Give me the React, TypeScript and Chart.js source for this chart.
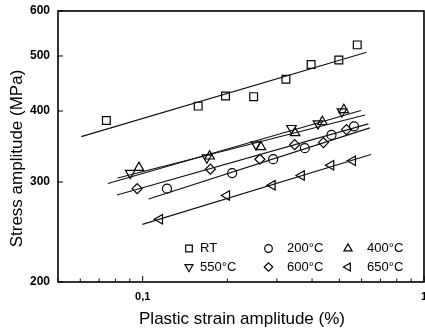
import React, { useEffect, useRef } from 'react';
import { Chart, registerables } from 'chart.js';
import { drawPoint } from 'chart.js/helpers';

Chart.register(...registerables);

// ---- data (strain amplitude %, stress amplitude MPa) ----
const seriesNames = ['RT', '200°C', '400°C', '550°C', '600°C', '650°C'];

const rtStrain = [0.0743, 0.1575, 0.197, 0.248, 0.323, 0.397, 0.498, 0.579];
const rtStress = [385, 408, 425, 424, 455, 483, 492, 523];
const t200Strain = [0.122, 0.208, 0.291, 0.377, 0.469, 0.564];
const t200Stress = [292, 311, 329, 344, 363, 376];
const t400Strain = [0.097, 0.173, 0.263, 0.348, 0.435, 0.519];
const t400Stress = [318, 333, 346, 366, 383, 402];
const t550Strain = [0.0903, 0.169, 0.253, 0.338, 0.42, 0.511];
const t550Stress = [311, 331, 349, 373, 380, 399];
const t600Strain = [0.0956, 0.174, 0.261, 0.347, 0.439, 0.53];
const t600Stress = [292, 316, 329, 349, 352, 371];
const t650Strain = [0.115, 0.199, 0.289, 0.367, 0.467, 0.558];
const t650Stress = [258, 284, 296, 308, 321, 327];

// fitted lines (end points)
const rtFitStrain = [0.0605, 0.625];
const rtFitStress = [360.5, 507.6];
const t200FitStrain = [0.105, 0.642];
const t200FitStress = [280, 373.5];
const t400FitStrain = [0.0815, 0.617];
const t400FitStress = [304.9, 393.6];
const t550FitStrain = [0.0752, 0.597];
const t550FitStress = [298.2, 400.9];
const t600FitStrain = [0.081, 0.634];
const t600FitStress = [284.6, 379.6];
const t650FitStrain = [0.0998, 0.648];
const t650FitStress = [252.7, 335.4];

const xTickValues = [0.05, 0.06, 0.07, 0.08, 0.09, 0.1, 0.2, 0.3, 0.4, 0.5, 0.6, 0.7, 0.8, 0.9, 1];
const xMajorValues = [0.1, 1];
const xMajorLabels = ['0,1', '1'];
const yTickValues = [200, 300, 400, 500, 600];
const yTickLabels = ['200', '300', '400', '500', '600'];

const markerStyles = [
  { pointStyle: 'rect', rotation: 0, radius: 5.5 },
  { pointStyle: 'circle', rotation: 0, radius: 4.5 },
  { pointStyle: 'triangle', rotation: 0, radius: 5.5 },
  { pointStyle: 'triangle', rotation: 180, radius: 5.5 },
  { pointStyle: 'rectRot', rotation: 0, radius: 5 },
  { pointStyle: 'triangle', rotation: -90, radius: 5.5 },
];

const pointSets = [
  [rtStrain, rtStress],
  [t200Strain, t200Stress],
  [t400Strain, t400Stress],
  [t550Strain, t550Stress],
  [t600Strain, t600Stress],
  [t650Strain, t650Stress],
];
const fitSets = [
  [rtFitStrain, rtFitStress],
  [t200FitStrain, t200FitStress],
  [t400FitStrain, t400FitStress],
  [t550FitStrain, t550FitStress],
  [t600FitStrain, t600FitStress],
  [t650FitStrain, t650FitStress],
];

const FONT = '"Liberation Sans", Arial, Helvetica, sans-serif';

const near = (a: number, b: number) => Math.abs(a - b) < 1e-9 * Math.max(1, Math.abs(b));

const decorPlugin = {
  id: 'decor',
  afterDraw(chart: any) {
    const { ctx, chartArea: a, scales } = chart;
    const xs = scales.x;
    const ys = scales.y;
    ctx.save();
    ctx.strokeStyle = '#000';
    // frame
    ctx.lineWidth = 1.6;
    ctx.strokeRect(a.left, a.top, a.right - a.left, a.bottom - a.top);
    // inward ticks
    ctx.lineWidth = 1;
    xTickValues.forEach((v) => {
      const px = xs.getPixelForValue(v);
      const major = xMajorValues.some((m) => near(m, v));
      const len = major ? 6 : 3.5;
      ctx.beginPath();
      ctx.moveTo(px, a.bottom);
      ctx.lineTo(px, a.bottom - len);
      ctx.stroke();
    });
    yTickValues.forEach((v) => {
      const py = ys.getPixelForValue(v);
      ctx.beginPath();
      ctx.moveTo(a.left, py);
      ctx.lineTo(a.left + 5, py);
      ctx.stroke();
    });

    // x tick labels
    ctx.fillStyle = '#000';
    ctx.font = `bold 11px ${FONT}`;
    ctx.textAlign = 'center';
    ctx.textBaseline = 'middle';
    xMajorValues.forEach((v, i) => {
      ctx.fillText(xMajorLabels[i], xs.getPixelForValue(v), a.bottom + 15);
    });

    // legend (2 rows x 3 columns) inside plot area
    const colMarkerX = [a.left + 131, a.left + 210.5, a.left + 290];
    const colTextX = [a.left + 142, a.left + 229, a.left + 309];
    const rowY = [a.bottom - 33.5, a.bottom - 15];
    ctx.font = `13px ${FONT}`;
    ctx.textBaseline = 'middle';
    ctx.textAlign = 'left';
    seriesNames.forEach((name, i) => {
      const r = Math.floor(i / 3);
      const c = i % 3;
      const m = markerStyles[i];
      ctx.save();
      ctx.strokeStyle = '#000';
      ctx.fillStyle = 'rgba(0,0,0,0)';
      ctx.lineWidth = 1.2;
      drawPoint(
        ctx,
        { pointStyle: m.pointStyle as any, rotation: m.rotation, radius: m.radius * 0.85, borderWidth: 1.2 },
        colMarkerX[c],
        rowY[r]
      );
      ctx.restore();
      ctx.fillStyle = '#000';
      ctx.fillText(name, colTextX[c], rowY[r]);
    });

    // axis titles
    ctx.fillStyle = '#000';
    ctx.font = `17px ${FONT}`;
    ctx.textAlign = 'center';
    ctx.textBaseline = 'alphabetic';
    ctx.fillText('Plastic strain amplitude (%)', (a.left + a.right) / 2 + 1, 324);
    ctx.save();
    ctx.translate(22, (a.top + a.bottom) / 2 + 12);
    ctx.rotate(-Math.PI / 2);
    ctx.fillText('Stress amplitude (MPa)', 0, 0);
    ctx.restore();
    ctx.restore();
  },
};

export default function App() {
  const ref = useRef<HTMLCanvasElement | null>(null);

  useEffect(() => {
    if (!ref.current) return;
    const datasets: any[] = [];
    fitSets.forEach(([xsv, ysv]) => {
      datasets.push({
        data: xsv.map((x, i) => ({ x, y: ysv[i] })),
        showLine: true,
        pointRadius: 0,
        borderColor: '#111',
        borderWidth: 1.2,
        fill: false,
      });
    });
    pointSets.forEach(([xsv, ysv], k) => {
      const m = markerStyles[k];
      datasets.push({
        data: xsv.map((x, i) => ({ x, y: ysv[i] })),
        showLine: false,
        pointStyle: m.pointStyle,
        rotation: m.rotation,
        pointRadius: m.radius,
        pointBorderColor: '#000',
        pointBackgroundColor: 'rgba(0,0,0,0)',
        pointBorderWidth: 1.2,
        borderColor: '#000',
        backgroundColor: 'rgba(0,0,0,0)',
      });
    });

    const chart = new Chart(ref.current, {
      type: 'scatter',
      data: { datasets },
      options: {
        responsive: false,
        animation: false,
        devicePixelRatio: 1,
        events: [],
        layout: { autoPadding: false, padding: { top: 11, right: 1, left: 0, bottom: 0 } },
        plugins: { legend: { display: false }, tooltip: { enabled: false } },
        scales: {
          x: {
            type: 'logarithmic',
            min: 0.05,
            max: 1,
            grid: { display: false, drawTicks: false },
            border: { display: false },
            afterBuildTicks: (s: any) => {
              s.ticks = xTickValues.map((v) => ({ value: v }));
            },
            afterFit: (s: any) => {
              s.height = 48;
              s.paddingLeft = 0;
              s.paddingRight = 0;
            },
            ticks: { display: false },
          },
          y: {
            type: 'logarithmic',
            min: 200,
            max: 600,
            grid: { display: false, drawTicks: false },
            border: { display: false },
            afterBuildTicks: (s: any) => {
              s.ticks = yTickValues.map((v) => ({ value: v }));
            },
            afterFit: (s: any) => {
              s.width = 58;
              s.paddingTop = 0;
              s.paddingBottom = 0;
            },
            ticks: {
              autoSkip: false,
              padding: 8,
              color: '#000',
              font: { family: FONT, size: 12, weight: 'bold' },
              callback: (v: any) => {
                const idx = yTickValues.findIndex((m) => near(m, Number(v)));
                return idx >= 0 ? yTickLabels[idx] : '';
              },
            },
          },
        },
      },
      plugins: [decorPlugin],
    });
    return () => chart.destroy();
  }, []);

  return (
    <div style={{ position: 'fixed', left: 0, top: 0, width: 425, height: 330, background: '#fff' }}>
      <canvas ref={ref} width={425} height={330} style={{ width: 425, height: 330, display: 'block' }} />
    </div>
  );
}
